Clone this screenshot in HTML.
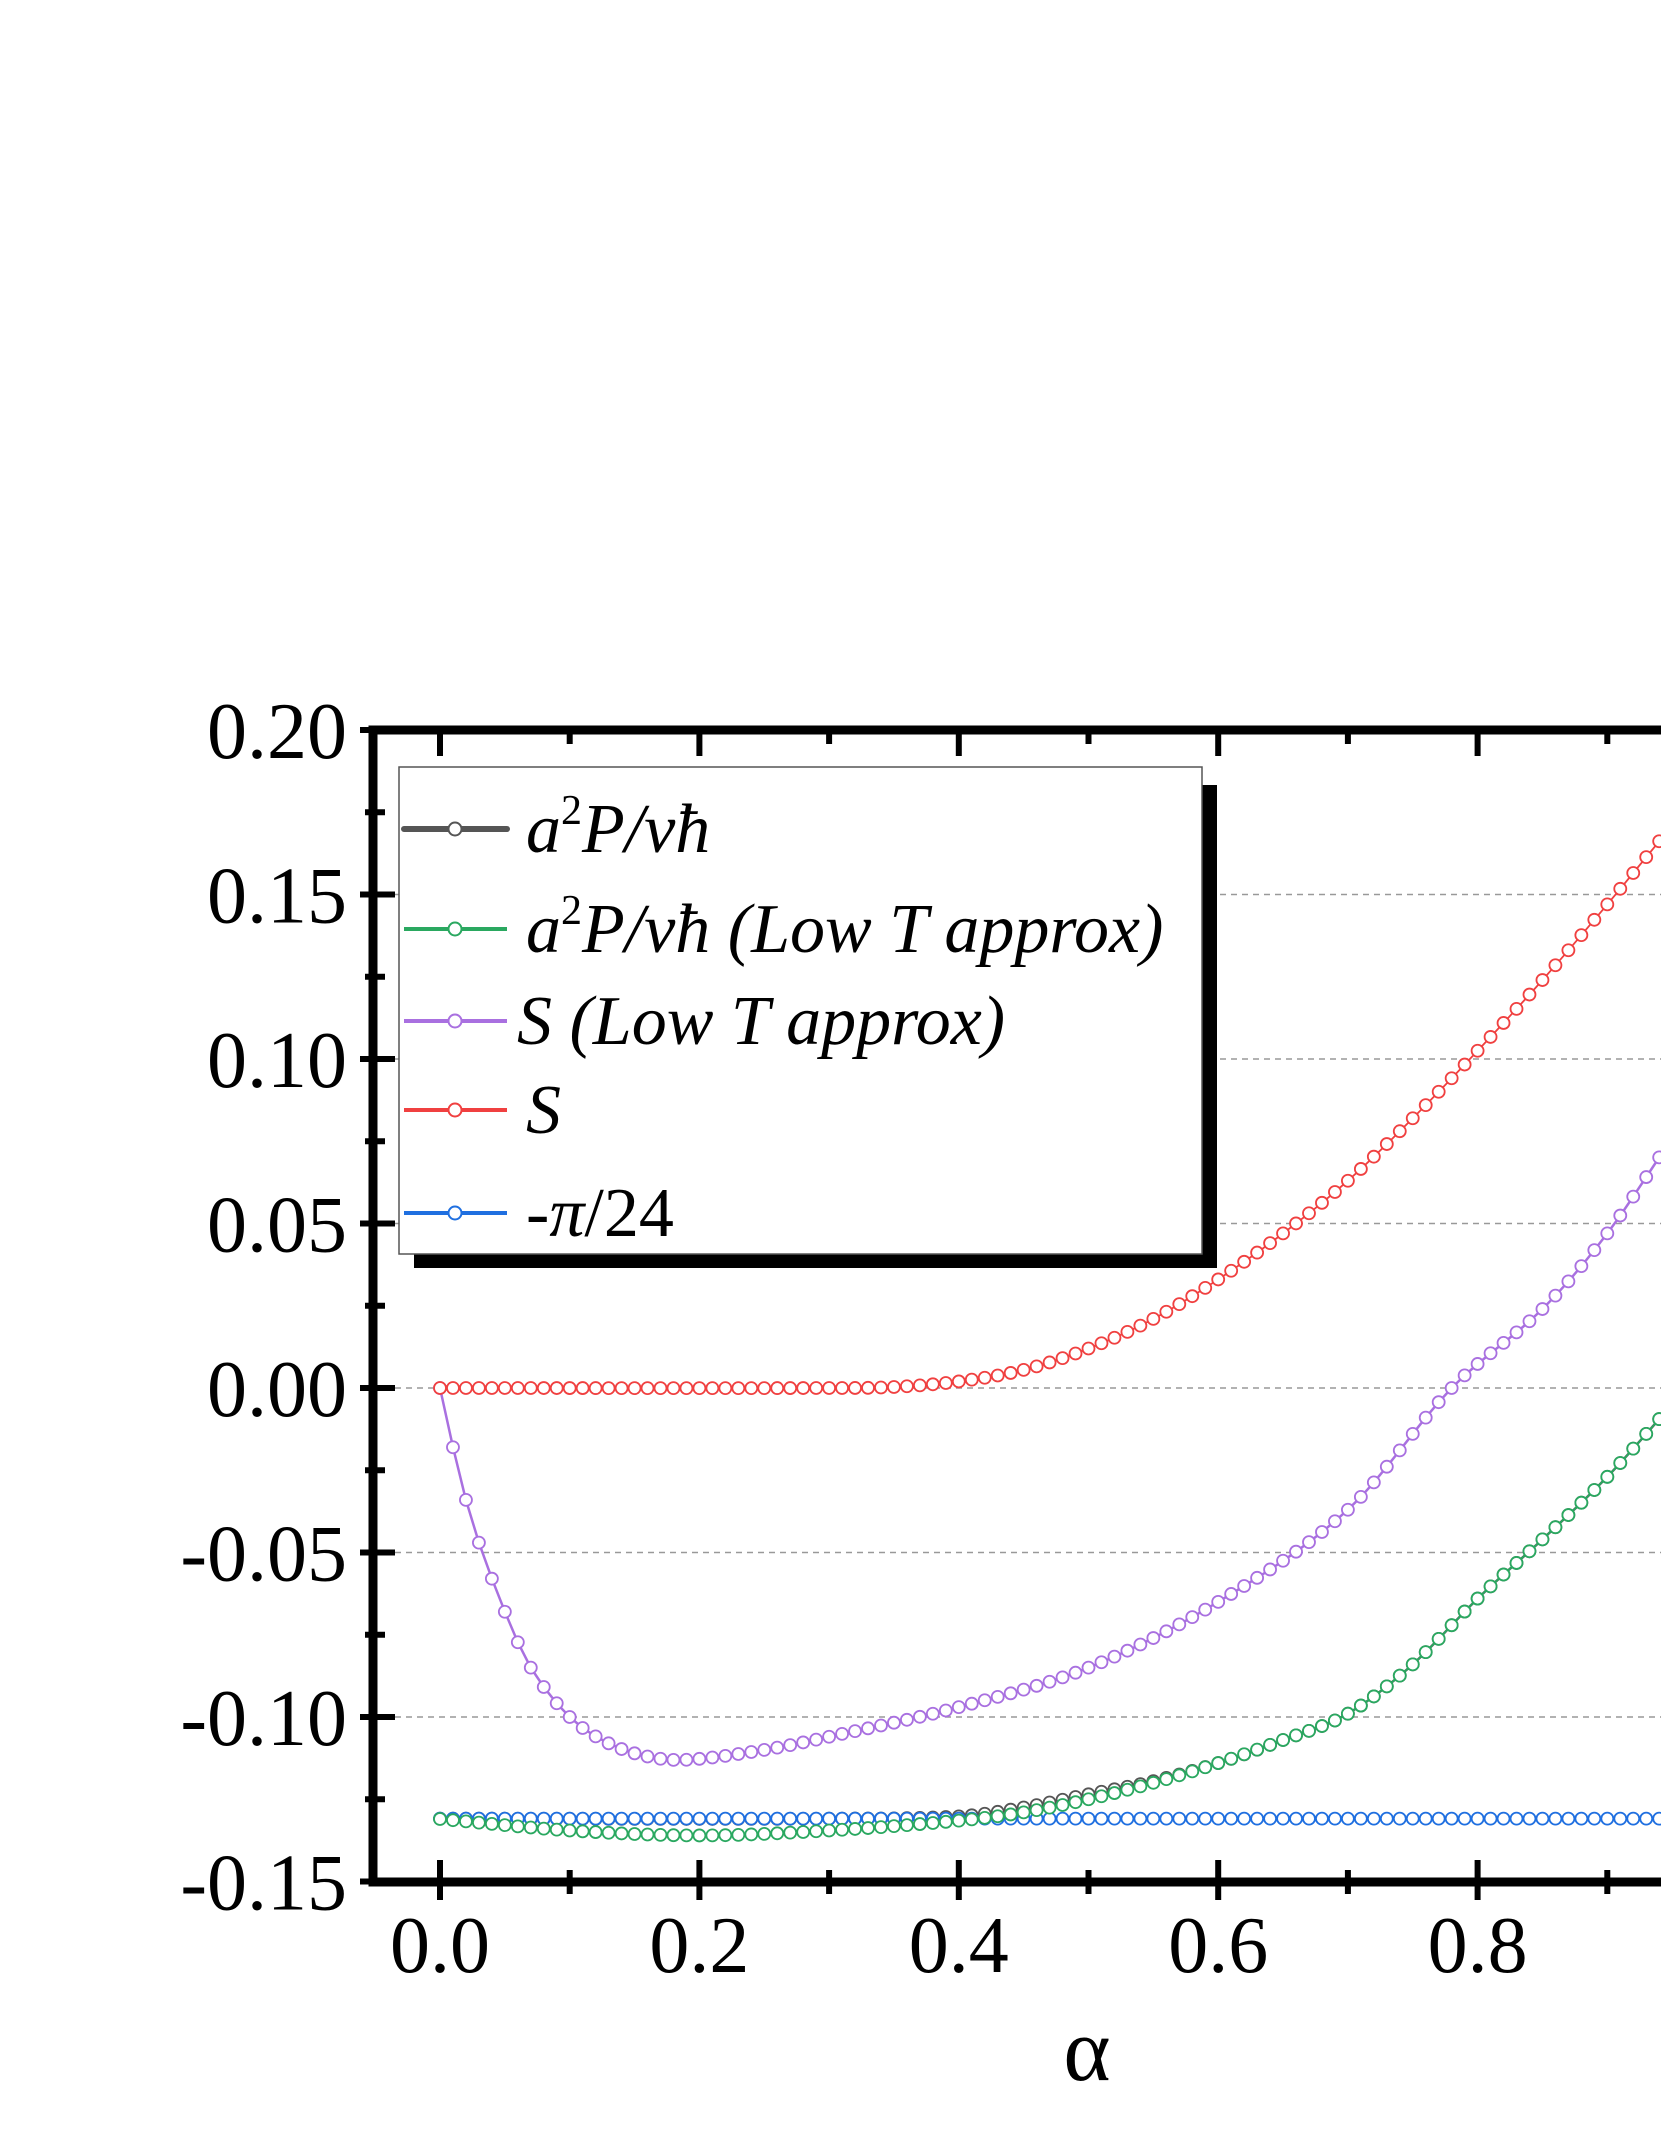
<!DOCTYPE html>
<html><head><meta charset="utf-8"><style>
html,body{margin:0;padding:0;background:#fff;}
svg{display:block;}
text{font-family:"Liberation Serif",serif;}
</style></head><body>
<svg id="s" width="1661" height="2149" xmlns="http://www.w3.org/2000/svg">
<defs><clipPath id="c"><rect x="373" y="730" width="1300" height="1152"/></clipPath></defs>
<g id="grid"></g>
<g id="data" clip-path="url(#c)"></g>
<g id="axes"></g>
<!-- legend -->
<rect x="414" y="785" width="803" height="483" fill="#000"/>
<rect x="399" y="767" width="803" height="487" fill="#fff" stroke="#555" stroke-width="1.5"/>
<g font-style="italic" font-size="70">
<line x1="404" y1="829" x2="507" y2="829" stroke="#555" stroke-width="6" stroke-linecap="round"/>
<circle cx="455" cy="829" r="6.5" fill="#fff" stroke="#555" stroke-width="2"/>
<text x="526" y="852">a<tspan dy="-28" font-size="42" font-style="normal">2</tspan><tspan dy="28">P/vħ</tspan></text>
<line x1="404" y1="929" x2="507" y2="929" stroke="#2aa860" stroke-width="4"/>
<circle cx="455" cy="929" r="6.5" fill="#fff" stroke="#2aa860" stroke-width="2"/>
<text x="526" y="952">a<tspan dy="-28" font-size="42" font-style="normal">2</tspan><tspan dy="28">P/vħ (Low T approx)</tspan></text>
<line x1="404" y1="1021" x2="507" y2="1021" stroke="#a970e0" stroke-width="4"/>
<circle cx="455" cy="1021" r="6.5" fill="#fff" stroke="#a970e0" stroke-width="2"/>
<text x="517" y="1044">S (Low T approx)</text>
<line x1="404" y1="1110" x2="507" y2="1110" stroke="#f04040" stroke-width="4"/>
<circle cx="455" cy="1110" r="6.5" fill="#fff" stroke="#f04040" stroke-width="2"/>
<text x="526" y="1133">S</text>
<line x1="404" y1="1213" x2="507" y2="1213" stroke="#1f6fe0" stroke-width="4"/>
<circle cx="455" cy="1213" r="6.5" fill="#fff" stroke="#1f6fe0" stroke-width="2"/>
<text x="526" y="1236" font-style="normal">-<tspan font-style="italic">π</tspan>/24</text>
</g>
<text x="1087" y="2080" font-size="90" text-anchor="middle">α</text>
</svg>
<script>
var NS="http://www.w3.org/2000/svg";
var X0=440,XU=1297,Y0=1388,YU=3290;
function px(x){return X0+x*XU;} function py(y){return Y0-y*YU;}
function el(p,t,a){var e=document.createElementNS(NS,t);for(var k in a)e.setAttribute(k,a[k]);p.appendChild(e);return e;}
var g=document.getElementById('grid'),ax=document.getElementById('axes'),d=document.getElementById('data');
[0.15,0.10,0.05,0,-0.05,-0.10].forEach(function(v){el(g,'line',{x1:373,x2:1661,y1:py(v),y2:py(v),stroke:'#999','stroke-width':1.5,'stroke-dasharray':'6,5'});});
function interp(pts,x){for(var i=0;i<pts.length-1;i++){if(x<=pts[i+1][0]){var a=pts[i],b=pts[i+1];
 var m0=(i>0)?(b[1]-pts[i-1][1])/(b[0]-pts[i-1][0]):(b[1]-a[1])/(b[0]-a[0]);
 var c=pts[i+2]||b; var m1=(i+2<pts.length)?(c[1]-a[1])/(c[0]-a[0]):(b[1]-a[1])/(b[0]-a[0]);
 var h=b[0]-a[0],t=(x-a[0])/h,t2=t*t,t3=t2*t;
 return (2*t3-3*t2+1)*a[1]+(t3-2*t2+t)*h*m0+(-2*t3+3*t2)*b[1]+(t3-t2)*h*m1;}}return pts[pts.length-1][1];}
var red=[[0,0],[0.3,0],[0.35,0.0003],[0.4,0.002],[0.45,0.0055],[0.5,0.012],[0.55,0.021],[0.6,0.033],[0.65,0.047],[0.7,0.063],[0.75,0.082],[0.8,0.1025],[0.85,0.124],[0.9,0.147],[0.95,0.171]];
var pur=[[0,0],[0.01,-0.018],[0.02,-0.034],[0.03,-0.047],[0.05,-0.068],[0.07,-0.085],[0.1,-0.100],[0.13,-0.108],[0.16,-0.112],[0.19,-0.113],[0.25,-0.110],[0.3,-0.106],[0.4,-0.097],[0.5,-0.085],[0.6,-0.065],[0.7,-0.037],[0.78,0.0],[0.85,0.024],[0.9,0.047],[0.95,0.076]];
var grn=[[0,-0.131],[0.1,-0.1345],[0.2,-0.136],[0.3,-0.1345],[0.4,-0.1315],[0.45,-0.129],[0.5,-0.125],[0.55,-0.12],[0.6,-0.114],[0.65,-0.107],[0.7,-0.099],[0.75,-0.084],[0.8,-0.064],[0.85,-0.046],[0.9,-0.027],[0.95,-0.005]];
var gry=[[0,-0.1309],[0.3,-0.1309],[0.4,-0.1302],[0.45,-0.1275],[0.5,-0.1235],[0.55,-0.1195],[0.6,-0.114],[0.65,-0.107],[0.7,-0.099],[0.75,-0.084],[0.8,-0.064],[0.85,-0.046],[0.9,-0.027],[0.95,-0.005]];
var blu=[[0,-0.1309],[1,-0.1309]];
function series(pts,col,lw){var s='';var xs=[];for(var i=0;i<=95;i++){var x=i/100;xs.push(x);s+=(i?'L':'M')+px(x).toFixed(1)+' '+py(interp(pts,x)).toFixed(1);}
 el(d,'path',{d:s,fill:'none',stroke:col,'stroke-width':lw});
 xs.forEach(function(x){el(d,'circle',{cx:px(x),cy:py(interp(pts,x)),r:6,fill:'#fff',stroke:col,'stroke-width':1.8});});}
series(gry,'#555',2.5);series(blu,'#1f6fe0',1.8);series(grn,'#2aa860',1.8);series(pur,'#a970e0',2.5);series(red,'#f04040',1.8);
el(ax,'rect',{x:373,y:730,width:1400,height:1152,fill:'none',stroke:'#000','stroke-width':9});
var ylab=['0.20','0.15','0.10','0.05','0.00','-0.05','-0.10','-0.15'];
for(var i=0;i<8;i++){var v=0.2-0.05*i,y=py(v);
 el(ax,'line',{x1:360,x2:395,y1:y,y2:y,stroke:'#000','stroke-width':6});
 var t=el(ax,'text',{x:347,y:y+28,'font-size':80,'text-anchor':'end'});t.textContent=ylab[i];
 if(i<7){var ym=py(v-0.025);el(ax,'line',{x1:365,x2:385,y1:ym,y2:ym,stroke:'#000','stroke-width':6});}}
for(var j=0;j<=9;j++){var x=px(j/10),maj=(j%2==0);
 el(ax,'line',{x1:x,x2:x,y1:1882-(maj?22:12),y2:1882+(maj?18:12),stroke:'#000','stroke-width':6});
 el(ax,'line',{x1:x,x2:x,y1:730,y2:730+(maj?26:14),stroke:'#000','stroke-width':6});
 if(maj&&j<=8){var t=el(ax,'text',{x:x,y:1972,'font-size':80,'text-anchor':'middle'});t.textContent=(j/10).toFixed(1);}}
</script>
</body></html>
